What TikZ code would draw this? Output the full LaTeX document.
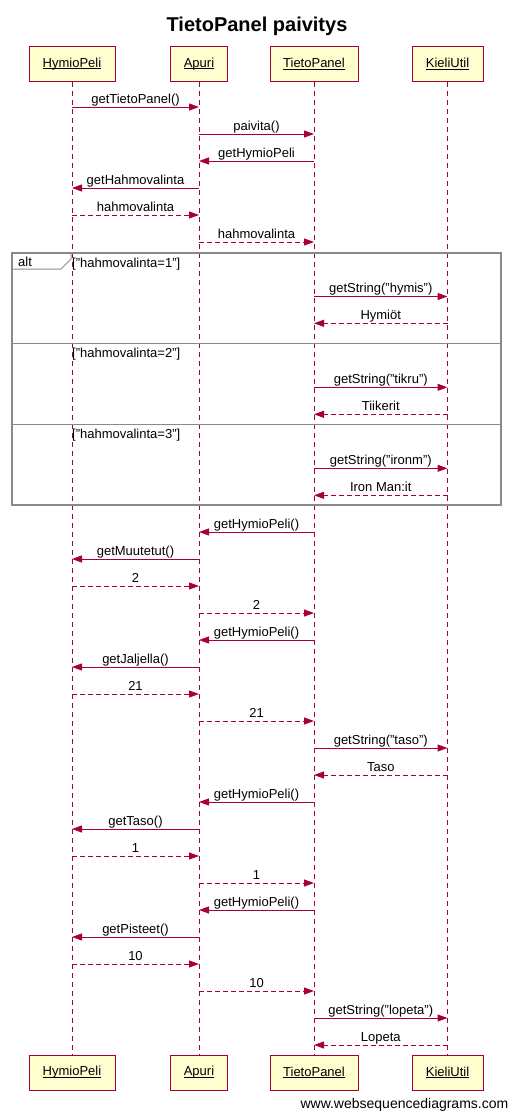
\documentclass[tikz,border=0pt]{standalone}
\usepackage{fontspec}
\setmainfont{Liberation Sans}
\usetikzlibrary{arrows.meta}

\definecolor{seqred}{HTML}{A80036}
\definecolor{seqfill}{HTML}{FEFECE}
\definecolor{framegray}{HTML}{8A8A8A}

% underlined participant name, rule set just under the baseline
\newcommand\uname[1]{\setbox0\hbox{#1}\rlap{\rule[-1.8pt]{\wd0}{0.9pt}}\box0}

% one message: id, from node, to node, y, label, style
\newcommand\sendmsg[6]{%
  \coordinate (#1y) at (0,#4);
  \coordinate (#1s) at (#2 |- #1y);
  \coordinate (#1e) at (#3 |- #1y);
  \draw[#6] (#1s) -- (#1e) node[msglabel] {#5};
}

\tikzset{
  actor/.style={draw=seqred, fill=seqfill, line width=1pt, minimum height=35pt,
    inner sep=0pt, font=\fontsize{13}{15}\selectfont},
  lifeline/.style={draw=seqred, line width=1pt, dash pattern=on 5pt off 4pt},
  call/.style={draw=seqred, line width=1pt, -{Triangle[length=10pt,width=7pt]}, seqred},
  reply/.style={call, dash pattern=on 5pt off 3pt},
  msglabel/.style={midway, anchor=base, yshift=3.8pt, inner sep=0pt, text=black,
    font=\fontsize{13}{15}\selectfont},
  altframe/.style={draw=framegray, line width=2pt},
  altline/.style={draw=framegray, line width=1pt},
  guard/.style={anchor=base west, inner sep=0pt, font=\fontsize{13}{15}\selectfont},
}

\begin{document}
\begin{tikzpicture}[x=1pt,y=-1pt]
\useasboundingbox (0,0) rectangle (510,1112);

% title
\node[anchor=base, inner sep=0pt, font=\fontsize{20}{24}\selectfont\bfseries] (title) at (257,31) {TietoPanel paivitys};

% participants, top and bottom
\node[actor, minimum width=86pt] (hT) at (72,64) {\uname{HymioPeli}};
\node[actor, minimum width=57pt] (aT) at (199,64) {\uname{Apuri}};
\node[actor, minimum width=88pt] (tT) at (314,64) {\uname{TietoPanel}};
\node[actor, minimum width=71pt] (kT) at (447.5,64) {\uname{KieliUtil}};
\node[actor, minimum width=86pt] (hB) at (72,1072.5) {\uname{HymioPeli}};
\node[actor, minimum width=57pt] (aB) at (199,1072.5) {\uname{Apuri}};
\node[actor, minimum width=88pt] (tB) at (314,1072.5) {\uname{TietoPanel}};
\node[actor, minimum width=71pt] (kB) at (447.5,1072.5) {\uname{KieliUtil}};

% lifelines
\draw[lifeline] (hT) -- (hB);
\draw[lifeline] (aT) -- (aB);
\draw[lifeline] (tT) -- (tB);
\draw[lifeline] (kT) -- (kB);

% alt fragment
\draw[altframe] (11.5,253) rectangle (500.5,505);
\draw[altline] (11.5,253) -- (71,253) -- (71,259) -- (61,269) -- (11.5,269);
\node[guard] (altlabel) at (18,266.5) {alt};
\draw[altline] (11.5,343.3) -- (500.5,343.3);
\draw[altline] (11.5,424) -- (500.5,424);
\node[guard] (g1) at (72,267) {["hahmovalinta=1"]};
\node[guard] (g2) at (72,357.5) {["hahmovalinta=2"]};
\node[guard] (g3) at (72,438.5) {["hahmovalinta=3"]};

% messages
\sendmsg{m1}{hT}{aT}{107}{getTietoPanel()}{call}
\sendmsg{m2}{aT}{tT}{134}{paivita()}{call}
\sendmsg{m3}{tT}{aT}{161}{getHymioPeli}{call}
\sendmsg{m4}{aT}{hT}{188}{getHahmovalinta}{call}
\sendmsg{m5}{hT}{aT}{215}{hahmovalinta}{reply}
\sendmsg{m6}{aT}{tT}{242}{hahmovalinta}{reply}
\sendmsg{m7}{tT}{kT}{296.5}{getString("hymis")}{call}
\sendmsg{m8}{kT}{tT}{323.3}{Hymiöt}{reply}
\sendmsg{m9}{tT}{kT}{387.3}{getString("tikru")}{call}
\sendmsg{m10}{kT}{tT}{414.3}{Tiikerit}{reply}
\sendmsg{m11}{tT}{kT}{468.3}{getString("ironm")}{call}
\sendmsg{m12}{kT}{tT}{495.3}{Iron Man:it}{reply}
\sendmsg{m13}{tT}{aT}{532}{getHymioPeli()}{call}
\sendmsg{m14}{aT}{hT}{559}{getMuutetut()}{call}
\sendmsg{m15}{hT}{aT}{586}{2}{reply}
\sendmsg{m16}{aT}{tT}{613}{2}{reply}
\sendmsg{m17}{tT}{aT}{640}{getHymioPeli()}{call}
\sendmsg{m18}{aT}{hT}{667}{getJaljella()}{call}
\sendmsg{m19}{hT}{aT}{694}{21}{reply}
\sendmsg{m20}{aT}{tT}{721}{21}{reply}
\sendmsg{m21}{tT}{kT}{748}{getString("taso")}{call}
\sendmsg{m22}{kT}{tT}{775}{Taso}{reply}
\sendmsg{m23}{tT}{aT}{802}{getHymioPeli()}{call}
\sendmsg{m24}{aT}{hT}{829}{getTaso()}{call}
\sendmsg{m25}{hT}{aT}{856}{1}{reply}
\sendmsg{m26}{aT}{tT}{883}{1}{reply}
\sendmsg{m27}{tT}{aT}{910}{getHymioPeli()}{call}
\sendmsg{m28}{aT}{hT}{937}{getPisteet()}{call}
\sendmsg{m29}{hT}{aT}{964}{10}{reply}
\sendmsg{m30}{aT}{tT}{991}{10}{reply}
\sendmsg{m31}{tT}{kT}{1018}{getString("lopeta")}{call}
\sendmsg{m32}{kT}{tT}{1045}{Lopeta}{reply}

% footer
\node[anchor=base east, inner sep=0pt, font=\fontsize{14}{16}\selectfont] (footer) at (508.5,1108.5) {www.websequencediagrams.com};
\end{tikzpicture}
\end{document}
